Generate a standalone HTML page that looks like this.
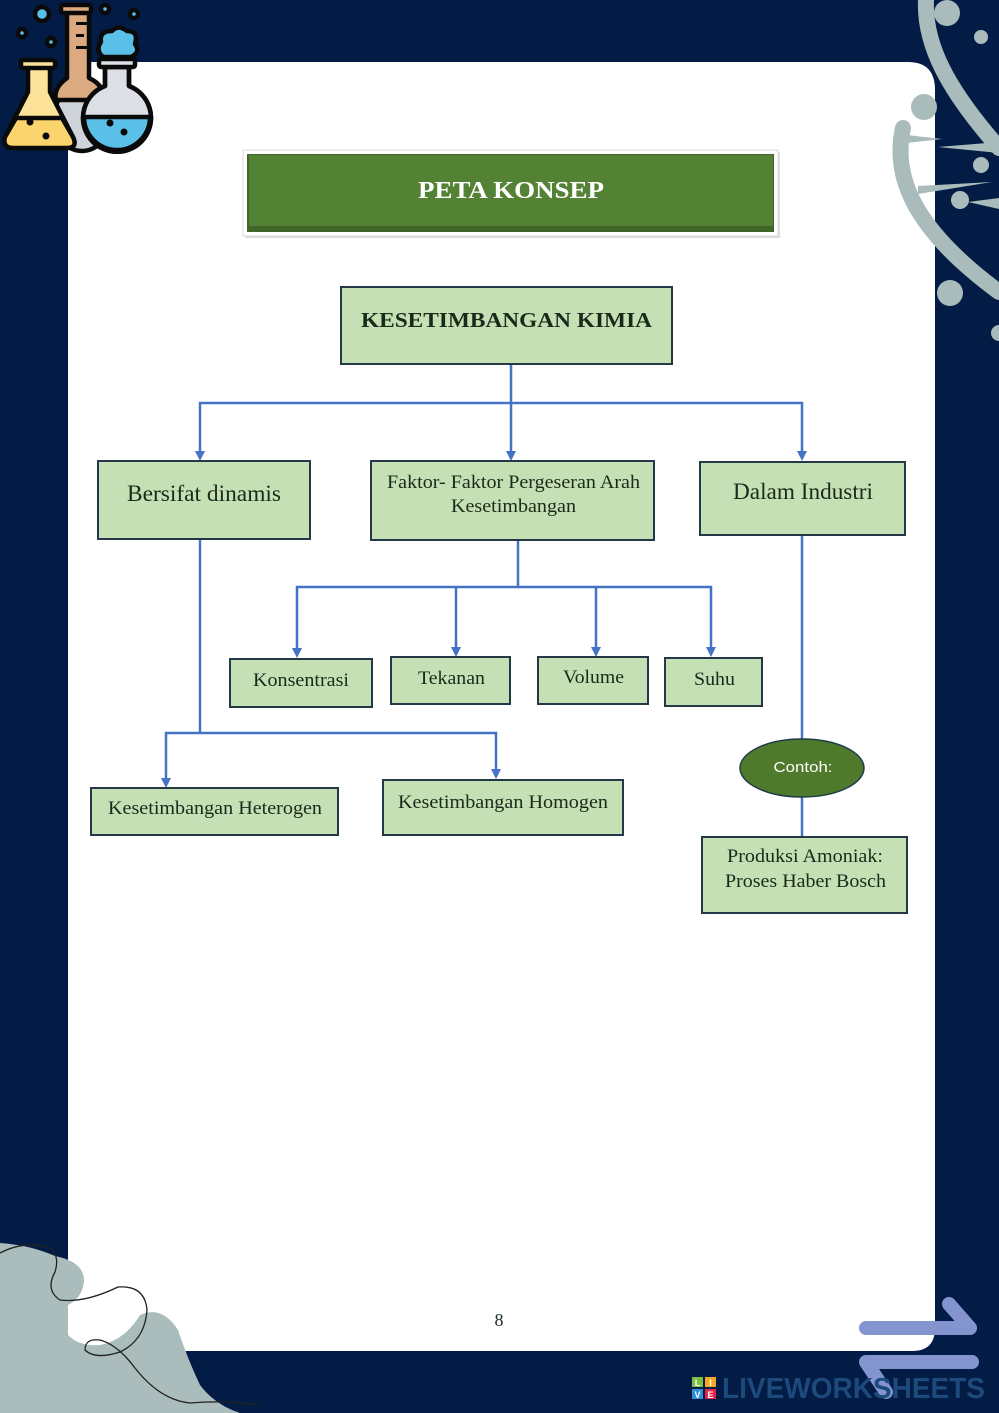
<!DOCTYPE html>
<html><head><meta charset="utf-8"><style>
html,body{margin:0;padding:0;background:#021c45;}
svg{display:block;}
</style></head><body>
<svg width="999" height="1413" viewBox="0 0 999 1413" xmlns="http://www.w3.org/2000/svg">
<rect x="0" y="0" width="999" height="1413" fill="#021c45"/>
<!-- white page -->
<path d="M68,62 H908 Q935,62 935,90 V1328 Q935,1351 912,1351 H68 Z" fill="#ffffff"/>

<!-- DNA top right -->
<g fill="none" stroke="#a9bbbb" stroke-linecap="round">
<path d="M926,0 C924,45 948,90 999,148" stroke-width="16"/>
<path d="M903,128 C892,178 915,230 999,292" stroke-width="16"/>
</g>
<g fill="#a9bbbb">
<polygon points="898,134 942,139 898,144"/>
<polygon points="938,147 999,142 999,153"/>
<polygon points="918,186 992,182 918,194"/>
<polygon points="968,202 999,198 999,209"/>
<circle cx="947" cy="13" r="13"/>
<circle cx="981" cy="37" r="7"/>
<circle cx="924" cy="107" r="13"/>
<circle cx="981" cy="165" r="8"/>
<circle cx="960" cy="200" r="9"/>
<circle cx="950" cy="293" r="13"/>
<circle cx="999" cy="333" r="8"/>
</g>

<!-- flask icon top-left -->
<g stroke="#0a0a0a" stroke-width="4.5" stroke-linejoin="round" stroke-linecap="round">
<!-- bubbles -->
<circle cx="42" cy="14" r="7" fill="#5bc0e8"/>
<circle cx="22" cy="33" r="4" fill="#5bc0e8"/>
<circle cx="51" cy="42" r="4" fill="#5bc0e8"/>
<circle cx="105" cy="9" r="4" fill="#5bc0e8"/>
<circle cx="134" cy="14" r="4" fill="#5bc0e8"/>
<!-- back gray bulb -->
<ellipse cx="82" cy="118" rx="28" ry="33" fill="#cfd3da"/>
<!-- cylinder -->
<path d="M67,12 V78 Q53,88 56,100 L102,100 Q106,86 89,78 V12 Z" fill="#dcaa80"/>
<rect x="61" y="5" width="30" height="8" rx="2" fill="#dcaa80"/>
<!-- conical flask -->
<path d="M28,67 V92 L5,137 Q2,148 14,148 L67,148 Q78,148 73,137 L50,92 V67 Z" fill="#fde29a"/>
<path d="M16,118 L62,118 L73,137 Q78,148 67,148 L14,148 Q2,148 5,137 Z" fill="#fbd46d"/>
<rect x="21" y="60" width="34" height="8" rx="2" fill="#fde29a"/>
<!-- round flask -->
<path d="M105,67 V86 A34,34 0 1 0 129,86 V67 Z" fill="#dcdfe5"/>
<path d="M84,117 L150,117 A33,33 0 0 1 84,117 Z" fill="#5bc0e8"/>
<path d="M105,67 V86 A34,34 0 1 0 129,86 V67 Z" fill="none"/>
<rect x="99" y="59" width="36" height="8" rx="2" fill="#dcdfe5"/>
<path d="M103,57 Q95,50 101,42 Q99,31 112,31 Q118,24 127,31 Q139,31 135,44 Q141,52 131,57 Z" fill="#5bc0e8"/>
</g>
<g fill="#0a0a0a">
<circle cx="30" cy="122" r="3.5"/><circle cx="46" cy="136" r="3.5"/>
<circle cx="110" cy="123" r="3.5"/><circle cx="124" cy="132" r="3.5"/>
<rect x="76" y="22" width="11" height="3"/><rect x="76" y="34" width="8" height="3"/><rect x="76" y="46" width="11" height="3"/>
</g>

<!-- bottom-left blob -->
<path d="M0,1243 Q30,1245 55,1256 Q85,1262 84,1282 Q82,1298 68,1305 L68,1335 Q80,1347 100,1345 Q125,1340 140,1315 Q162,1305 178,1330 Q188,1360 200,1385 Q215,1405 240,1413 L0,1413 Z" fill="#abbcbc"/>
<path d="M0,1253 Q25,1240 50,1248 Q60,1256 55,1272 Q45,1290 60,1300 Q85,1303 118,1287 Q145,1285 147,1310 Q145,1340 120,1352 Q95,1360 85,1350 Q85,1338 100,1340 Q118,1345 135,1368 Q160,1400 190,1403 Q225,1400 260,1405" fill="none" stroke="#222" stroke-width="1.3"/>

<!-- bottom-right arrows -->
<g fill="none" stroke="#8494cf" stroke-width="14" stroke-linecap="round" stroke-linejoin="round">
<path d="M866,1328 H970 L949,1304"/>
<path d="M972,1362 H866 L886,1392"/>
</g>

<!-- LIVEWORKSHEETS watermark -->
<rect x="692" y="1377" width="11" height="10" fill="#7ac143"/>
<rect x="705" y="1377" width="11" height="10" fill="#f7a823"/>
<rect x="692" y="1389" width="11" height="10" fill="#2e8fd6"/>
<rect x="705" y="1389" width="11" height="10" fill="#e5254b"/>
<g font-family="Liberation Sans, sans-serif" font-weight="bold" font-size="9" fill="#fff" text-anchor="middle">
<text x="697.5" y="1386">L</text><text x="710.5" y="1386">I</text><text x="697.5" y="1398">V</text><text x="710.5" y="1398">E</text>
</g>
<text x="722" y="1398" font-family="Liberation Sans, sans-serif" font-weight="bold" font-size="29" fill="#1d4a7c" textLength="263" lengthAdjust="spacingAndGlyphs">LIVEWORKSHEETS</text>

<!-- header bar -->
<rect x="245" y="152" width="535" height="86" fill="#c8c8c8" opacity="0.6"/>
<rect x="243" y="150" width="535" height="86" fill="#ffffff" stroke="#d8d8d8" stroke-width="1"/>
<rect x="247" y="154" width="527" height="78" fill="#3f6627"/>
<rect x="249" y="155" width="524" height="71" fill="#548235"/>
<text x="511" y="198" font-family="Liberation Serif, serif" font-weight="bold" font-size="24" fill="#ffffff" text-anchor="middle" textLength="186" lengthAdjust="spacingAndGlyphs">PETA KONSEP</text>

<!-- connectors -->
<g stroke="#4472c4" stroke-width="2.5" fill="none">
<path d="M511,364 V403"/>
<path d="M200,452 V403 H802 V452"/>
<path d="M511,403 V452"/>
<path d="M518,540 V587"/>
<path d="M297,649 V587 H711 V649"/>
<path d="M456,587 V649"/>
<path d="M596,587 V649"/>
<path d="M200,539 V733"/>
<path d="M166,780 V733 H496 V771"/>
<path d="M802,535 V740"/>
<path d="M802,797 V837"/>
</g>
<g fill="#4472c4">
<polygon points="195,451 205,451 200,461"/>
<polygon points="506,451 516,451 511,461"/>
<polygon points="797,451 807,451 802,461"/>
<polygon points="292,648 302,648 297,658"/>
<polygon points="451,647 461,647 456,657"/>
<polygon points="591,647 601,647 596,657"/>
<polygon points="706,647 716,647 711,657"/>
<polygon points="161,778 171,778 166,788"/>
<polygon points="491,769 501,769 496,779"/>
</g>

<!-- boxes -->
<g fill="#c5e0b4" stroke="#243845" stroke-width="2">
<rect x="341" y="287" width="331" height="77"/>
<rect x="98" y="461" width="212" height="78"/>
<rect x="371" y="461" width="283" height="79"/>
<rect x="700" y="462" width="205" height="73"/>
<rect x="230" y="659" width="142" height="48"/>
<rect x="391" y="657" width="119" height="47"/>
<rect x="538" y="657" width="110" height="47"/>
<rect x="665" y="658" width="97" height="48"/>
<rect x="91" y="788" width="247" height="47"/>
<rect x="383" y="780" width="240" height="55"/>
<rect x="702" y="837" width="205" height="76"/>
</g>
<ellipse cx="802" cy="768" rx="62" ry="29" fill="#4f7a2c" stroke="#1f3a4a" stroke-width="1.5"/>

<!-- labels -->
<g font-family="Liberation Serif, serif" fill="#1a2a1a">
<text x="361" y="327" font-weight="bold" font-size="21" textLength="291" lengthAdjust="spacingAndGlyphs">KESETIMBANGAN KIMIA</text>
<text x="127" y="501" font-size="23" textLength="154" lengthAdjust="spacingAndGlyphs">Bersifat dinamis</text>
<text x="387" y="488" font-size="18.5" textLength="253" lengthAdjust="spacingAndGlyphs">Faktor- Faktor Pergeseran Arah</text>
<text x="451" y="512" font-size="18.5" textLength="125" lengthAdjust="spacingAndGlyphs">Kesetimbangan</text>
<text x="733" y="499" font-size="23" textLength="140" lengthAdjust="spacingAndGlyphs">Dalam Industri</text>
<text x="253" y="686" font-size="19" textLength="96" lengthAdjust="spacingAndGlyphs">Konsentrasi</text>
<text x="418" y="684" font-size="19" textLength="67" lengthAdjust="spacingAndGlyphs">Tekanan</text>
<text x="563" y="683" font-size="19" textLength="61" lengthAdjust="spacingAndGlyphs">Volume</text>
<text x="694" y="685" font-size="19" textLength="41" lengthAdjust="spacingAndGlyphs">Suhu</text>
<text x="108" y="814" font-size="19" textLength="214" lengthAdjust="spacingAndGlyphs">Kesetimbangan Heterogen</text>
<text x="398" y="808" font-size="19" textLength="210" lengthAdjust="spacingAndGlyphs">Kesetimbangan Homogen</text>
<text x="727" y="862" font-size="19" textLength="156" lengthAdjust="spacingAndGlyphs">Produksi Amoniak:</text>
<text x="725" y="887" font-size="19" textLength="161" lengthAdjust="spacingAndGlyphs">Proses Haber Bosch</text>
<text x="499" y="1326" font-size="18" text-anchor="middle">8</text>
</g>
<text x="803" y="772" font-family="Liberation Sans, sans-serif" font-size="15" fill="#ffffff" text-anchor="middle" textLength="59" lengthAdjust="spacingAndGlyphs">Contoh:</text>
</svg>
</body></html>
